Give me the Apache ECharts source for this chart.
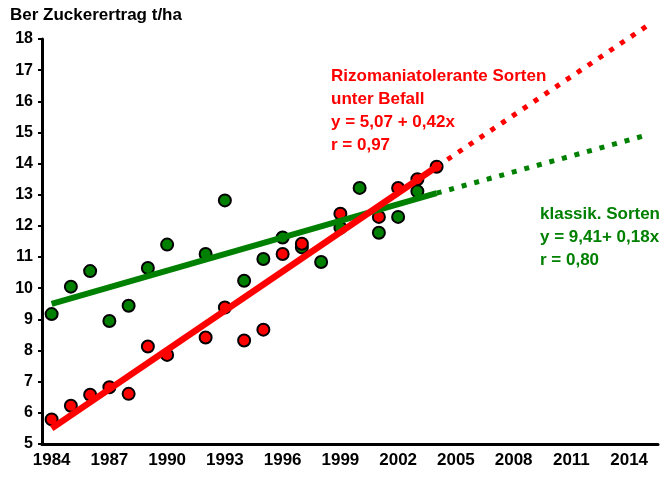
<!DOCTYPE html>
<html>
<head>
<meta charset="utf-8">
<script src="https://cdn.jsdelivr.net/npm/echarts@6/dist/echarts.min.js"></script>
<style>
  html, body { margin: 0; padding: 0; background: #fff; }
  #chart { width: 669px; height: 488px; }
</style>
</head>
<body>
<div id="chart"></div>
<script>
// categories on the x axis (one tick per year, label every 3rd)
const years = ['1984', '1985', '1986', '1987', '1988', '1989', '1990', '1991', '1992', '1993',
  '1994', '1995', '1996', '1997', '1998', '1999', '2000', '2001', '2002', '2003',
  '2004', '2005', '2006', '2007', '2008', '2009', '2010', '2011', '2012', '2013',
  '2014', '2015']

// observed yields, t/ha
const obsYears = ['1984', '1985', '1986', '1987', '1988', '1989', '1990', '1991', '1992', '1993',
  '1994', '1995', '1996', '1997', '1998', '1999', '2000', '2001', '2002', '2003', '2004']
const klassik = [9.17, 10.05, 10.55, 8.95, 9.44, 10.65, 11.4, null, 11.1, 12.82,
  10.24, 10.94, 11.63, 11.31, 10.84, 11.94, 13.22, 11.78, 12.29, 13.11, null]
const rizo = [5.79, 6.23, 6.58, 6.82, 6.61, 8.13, 7.86, null, 8.42, 9.38,
  8.32, 8.67, 11.1, 11.43, null, 12.39, null, 12.29, 13.22, 13.5, 13.9]

// trend line end points (solid part, then dotted projection)
const trendYears = ['1984', '2004']
const projYears = ['2004', '2015']
const klassikTrend = [9.5, 13.05]
const klassikProj = [13.05, 14.93]
const rizoTrend = [5.5, 13.9]
const rizoProj = [13.9, 18.45]

const yTicks = [5, 18]

const RED = '#ff0000'
const GREEN = '#008000'
const FONT = 'Liberation Sans, Arial, sans-serif'
const pairs = (xs, ys) => xs.map((x, i) => [x, ys[i]])

const chart = echarts.init(document.getElementById('chart'))

const pointStyle = (c) => ({ color: c, borderColor: '#000', borderWidth: 2, opacity: 1 })

const option = {
  animation: false,
  grid: { left: 42, right: 11, top: 39, bottom: 44 },
  xAxis: {
    type: 'category',
    data: years,
    boundaryGap: true,
    axisLine: { lineStyle: { color: '#000', width: 3 } },
    axisTick: { interval: 0, length: 4, lineStyle: { color: '#000', width: 2 } },
    axisLabel: {
      interval: 2, color: '#000', fontWeight: 'bold', fontSize: 17,
      fontFamily: FONT, margin: 8
    },
    splitLine: { show: false }
  },
  yAxis: {
    type: 'value',
    min: yTicks[0],
    max: yTicks[1],
    interval: 1,
    axisLine: { show: true, lineStyle: { color: '#000', width: 3 } },
    axisTick: { show: true, length: 4, lineStyle: { color: '#000', width: 2 } },
    axisLabel: {
      color: '#000', fontWeight: 'bold', fontSize: 16,
      fontFamily: FONT, margin: 9
    },
    splitLine: { show: false }
  },
  graphic: [
    {
      type: 'text', left: 10, top: 7,
      style: { text: 'Ber Zuckerertrag t/ha', fill: '#000', font: 'bold 17px ' + FONT }
    },
    {
      type: 'text', left: 331, top: 65,
      style: {
        text: 'Rizomaniatolerante Sorten\nunter Befall\ny = 5,07 + 0,42x\nr = 0,97',
        fill: RED, font: 'bold 17px ' + FONT, lineHeight: 23
      }
    },
    {
      type: 'text', left: 540, top: 203,
      style: {
        text: 'klassik. Sorten\ny = 9,41+ 0,18x\nr = 0,80',
        fill: GREEN, font: 'bold 17px ' + FONT, lineHeight: 23
      }
    }
  ],
  series: [
    {
      name: 'klassik', type: 'scatter', symbolSize: 12, z: 2,
      data: pairs(obsYears, klassik).filter(p => p[1] != null),
      itemStyle: pointStyle(GREEN)
    },
    {
      name: 'rizo', type: 'scatter', symbolSize: 12, z: 3,
      data: pairs(obsYears, rizo).filter(p => p[1] != null),
      itemStyle: pointStyle(RED)
    },
    {
      type: 'line', z: 4, symbol: 'none', silent: true, clip: false,
      data: pairs(trendYears, klassikTrend),
      lineStyle: { color: GREEN, width: 6 }
    },
    {
      type: 'line', z: 4, symbol: 'none', silent: true, clip: false,
      data: pairs(projYears, klassikProj),
      lineStyle: { color: GREEN, width: 5, type: [5, 8] }
    },
    {
      type: 'line', z: 5, symbol: 'none', silent: true, clip: false,
      data: pairs(trendYears, rizoTrend),
      lineStyle: { color: RED, width: 6.5 }
    },
    {
      type: 'line', z: 5, symbol: 'none', silent: true, clip: false,
      data: pairs(projYears, rizoProj),
      lineStyle: { color: RED, width: 5, type: [5, 8] }
    }
  ]
}

chart.setOption(option)
</script>
</body>
</html>
